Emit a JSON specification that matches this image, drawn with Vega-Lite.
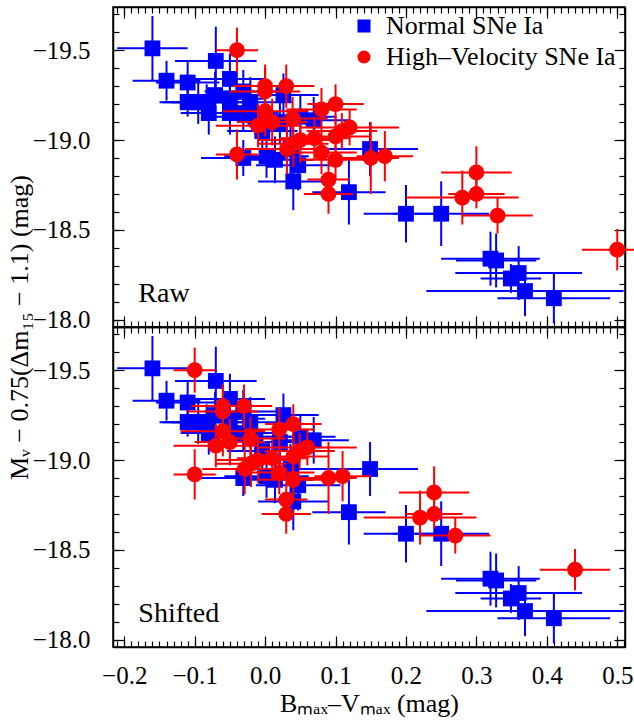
{
  "$schema": "https://vega.github.io/schema/vega-lite/v6.json",
  "padding": {"left": 5, "top": 5, "right": 8, "bottom": 5},
  "spacing": 0,
  "bounds": "flush",
  "data": {"values": [
    {"panel":"Both","type":"Normal SNe Ia","x":-0.160,"y":-19.51,"xe":0.050,"ye":0.18},
    {"panel":"Both","type":"Normal SNe Ia","x":-0.140,"y":-19.33,"xe":0.048,"ye":0.11},
    {"panel":"Both","type":"Normal SNe Ia","x":-0.110,"y":-19.32,"xe":0.045,"ye":0.12},
    {"panel":"Both","type":"Normal SNe Ia","x":-0.070,"y":-19.44,"xe":0.058,"ye":0.19},
    {"panel":"Both","type":"Normal SNe Ia","x":-0.050,"y":-19.34,"xe":0.050,"ye":0.14},
    {"panel":"Both","type":"Normal SNe Ia","x":-0.110,"y":-19.21,"xe":0.040,"ye":0.08},
    {"panel":"Both","type":"Normal SNe Ia","x":-0.095,"y":-19.21,"xe":0.050,"ye":0.12},
    {"panel":"Both","type":"Normal SNe Ia","x":-0.083,"y":-19.21,"xe":0.050,"ye":0.10},
    {"panel":"Both","type":"Normal SNe Ia","x":-0.071,"y":-19.25,"xe":0.050,"ye":0.13},
    {"panel":"Both","type":"Normal SNe Ia","x":-0.080,"y":-19.15,"xe":0.040,"ye":0.12},
    {"panel":"Both","type":"Normal SNe Ia","x":-0.050,"y":-19.23,"xe":0.050,"ye":0.10},
    {"panel":"Both","type":"Normal SNe Ia","x":-0.050,"y":-19.15,"xe":0.040,"ye":0.12},
    {"panel":"Both","type":"Normal SNe Ia","x":-0.031,"y":-19.27,"xe":0.055,"ye":0.12},
    {"panel":"Both","type":"Normal SNe Ia","x":-0.031,"y":-19.15,"xe":0.050,"ye":0.10},
    {"panel":"Both","type":"Normal SNe Ia","x":-0.021,"y":-19.21,"xe":0.060,"ye":0.14},
    {"panel":"Both","type":"Normal SNe Ia","x":-0.031,"y":-18.90,"xe":0.060,"ye":0.10},
    {"panel":"Both","type":"Normal SNe Ia","x":0.002,"y":-18.91,"xe":0.060,"ye":0.12},
    {"panel":"Both","type":"Normal SNe Ia","x":0.014,"y":-18.89,"xe":0.055,"ye":0.13},
    {"panel":"Both","type":"Normal SNe Ia","x":0.036,"y":-18.95,"xe":0.060,"ye":0.14},
    {"panel":"Both","type":"Normal SNe Ia","x":0.047,"y":-18.86,"xe":0.060,"ye":0.14},
    {"panel":"Both","type":"Normal SNe Ia","x":0.040,"y":-18.77,"xe":0.050,"ye":0.16},
    {"panel":"Both","type":"Normal SNe Ia","x":0.069,"y":-19.11,"xe":0.050,"ye":0.13},
    {"panel":"Both","type":"Normal SNe Ia","x":0.026,"y":-19.25,"xe":0.050,"ye":0.12},
    {"panel":"Both","type":"Normal SNe Ia","x":0.149,"y":-18.95,"xe":0.068,"ye":0.15},
    {"panel":"Both","type":"Normal SNe Ia","x":0.119,"y":-18.71,"xe":0.052,"ye":0.18},
    {"panel":"Both","type":"Normal SNe Ia","x":0.200,"y":-18.59,"xe":0.060,"ye":0.16},
    {"panel":"Both","type":"Normal SNe Ia","x":0.250,"y":-18.59,"xe":0.068,"ye":0.18},
    {"panel":"Both","type":"Normal SNe Ia","x":0.320,"y":-18.34,"xe":0.070,"ye":0.15},
    {"panel":"Both","type":"Normal SNe Ia","x":0.328,"y":-18.33,"xe":0.057,"ye":0.15},
    {"panel":"Both","type":"Normal SNe Ia","x":0.349,"y":-18.23,"xe":0.043,"ye":0.08},
    {"panel":"Both","type":"Normal SNe Ia","x":0.360,"y":-18.26,"xe":0.090,"ye":0.15},
    {"panel":"Both","type":"Normal SNe Ia","x":0.369,"y":-18.16,"xe":0.140,"ye":0.14},
    {"panel":"Both","type":"Normal SNe Ia","x":0.410,"y":-18.12,"xe":0.080,"ye":0.14},
    {"panel":"Both","type":"Normal SNe Ia","x":-0.014,"y":-19.13,"xe":0.060,"ye":0.10},
    {"panel":"Both","type":"Normal SNe Ia","x":-0.004,"y":-19.05,"xe":0.050,"ye":0.12},
    {"panel":"Both","type":"Normal SNe Ia","x":0.021,"y":-19.10,"xe":0.050,"ye":0.12},
    {"panel":"Both","type":"Normal SNe Ia","x":0.050,"y":-19.13,"xe":0.050,"ye":0.12},
    {"panel":"Raw","type":"High–Velocity SNe Ia","x":-0.040,"y":-19.50,"xe":0.030,"ye":0.125},
    {"panel":"Raw","type":"High–Velocity SNe Ia","x":0.000,"y":-19.30,"xe":0.045,"ye":0.12},
    {"panel":"Raw","type":"High–Velocity SNe Ia","x":0.000,"y":-19.27,"xe":0.050,"ye":0.13},
    {"panel":"Raw","type":"High–Velocity SNe Ia","x":0.030,"y":-19.30,"xe":0.040,"ye":0.12},
    {"panel":"Raw","type":"High–Velocity SNe Ia","x":0.000,"y":-19.16,"xe":0.060,"ye":0.14},
    {"panel":"Raw","type":"High–Velocity SNe Ia","x":-0.010,"y":-19.08,"xe":0.060,"ye":0.12},
    {"panel":"Raw","type":"High–Velocity SNe Ia","x":0.010,"y":-19.10,"xe":0.050,"ye":0.13},
    {"panel":"Raw","type":"High–Velocity SNe Ia","x":0.039,"y":-19.12,"xe":0.050,"ye":0.12},
    {"panel":"Raw","type":"High–Velocity SNe Ia","x":0.080,"y":-19.17,"xe":0.050,"ye":0.12},
    {"panel":"Raw","type":"High–Velocity SNe Ia","x":0.100,"y":-19.20,"xe":0.040,"ye":0.11},
    {"panel":"Raw","type":"High–Velocity SNe Ia","x":0.031,"y":-18.95,"xe":0.060,"ye":0.14},
    {"panel":"Raw","type":"High–Velocity SNe Ia","x":0.040,"y":-18.98,"xe":0.050,"ye":0.13},
    {"panel":"Raw","type":"High–Velocity SNe Ia","x":0.050,"y":-19.00,"xe":0.060,"ye":0.13},
    {"panel":"Raw","type":"High–Velocity SNe Ia","x":0.070,"y":-19.01,"xe":0.050,"ye":0.12},
    {"panel":"Raw","type":"High–Velocity SNe Ia","x":0.080,"y":-18.93,"xe":0.050,"ye":0.12},
    {"panel":"Raw","type":"High–Velocity SNe Ia","x":0.100,"y":-19.02,"xe":0.050,"ye":0.12},
    {"panel":"Raw","type":"High–Velocity SNe Ia","x":0.109,"y":-19.05,"xe":0.050,"ye":0.10},
    {"panel":"Raw","type":"High–Velocity SNe Ia","x":0.120,"y":-19.07,"xe":0.070,"ye":0.10},
    {"panel":"Raw","type":"High–Velocity SNe Ia","x":0.100,"y":-18.89,"xe":0.050,"ye":0.11},
    {"panel":"Raw","type":"High–Velocity SNe Ia","x":0.090,"y":-18.78,"xe":0.030,"ye":0.10},
    {"panel":"Raw","type":"High–Velocity SNe Ia","x":0.090,"y":-18.70,"xe":0.035,"ye":0.11},
    {"panel":"Raw","type":"High–Velocity SNe Ia","x":-0.040,"y":-18.92,"xe":0.030,"ye":0.14},
    {"panel":"Raw","type":"High–Velocity SNe Ia","x":0.150,"y":-18.90,"xe":0.040,"ye":0.20},
    {"panel":"Raw","type":"High–Velocity SNe Ia","x":0.170,"y":-18.91,"xe":0.040,"ye":0.14},
    {"panel":"Raw","type":"High–Velocity SNe Ia","x":0.300,"y":-18.82,"xe":0.050,"ye":0.145},
    {"panel":"Raw","type":"High–Velocity SNe Ia","x":0.300,"y":-18.70,"xe":0.040,"ye":0.08},
    {"panel":"Raw","type":"High–Velocity SNe Ia","x":0.280,"y":-18.68,"xe":0.080,"ye":0.15},
    {"panel":"Raw","type":"High–Velocity SNe Ia","x":0.330,"y":-18.58,"xe":0.050,"ye":0.10},
    {"panel":"Raw","type":"High–Velocity SNe Ia","x":0.500,"y":-18.39,"xe":0.050,"ye":0.115},
    {"panel":"Shifted","type":"High–Velocity SNe Ia","x":-0.100,"y":-19.50,"xe":0.030,"ye":0.125},
    {"panel":"Shifted","type":"High–Velocity SNe Ia","x":-0.060,"y":-19.30,"xe":0.045,"ye":0.12},
    {"panel":"Shifted","type":"High–Velocity SNe Ia","x":-0.060,"y":-19.27,"xe":0.050,"ye":0.13},
    {"panel":"Shifted","type":"High–Velocity SNe Ia","x":-0.030,"y":-19.30,"xe":0.040,"ye":0.12},
    {"panel":"Shifted","type":"High–Velocity SNe Ia","x":-0.060,"y":-19.16,"xe":0.060,"ye":0.14},
    {"panel":"Shifted","type":"High–Velocity SNe Ia","x":-0.070,"y":-19.08,"xe":0.060,"ye":0.12},
    {"panel":"Shifted","type":"High–Velocity SNe Ia","x":-0.050,"y":-19.10,"xe":0.050,"ye":0.13},
    {"panel":"Shifted","type":"High–Velocity SNe Ia","x":-0.021,"y":-19.12,"xe":0.050,"ye":0.12},
    {"panel":"Shifted","type":"High–Velocity SNe Ia","x":0.020,"y":-19.17,"xe":0.050,"ye":0.12},
    {"panel":"Shifted","type":"High–Velocity SNe Ia","x":0.040,"y":-19.20,"xe":0.040,"ye":0.11},
    {"panel":"Shifted","type":"High–Velocity SNe Ia","x":-0.029,"y":-18.95,"xe":0.060,"ye":0.14},
    {"panel":"Shifted","type":"High–Velocity SNe Ia","x":-0.020,"y":-18.98,"xe":0.050,"ye":0.13},
    {"panel":"Shifted","type":"High–Velocity SNe Ia","x":-0.010,"y":-19.00,"xe":0.060,"ye":0.13},
    {"panel":"Shifted","type":"High–Velocity SNe Ia","x":0.010,"y":-19.01,"xe":0.050,"ye":0.12},
    {"panel":"Shifted","type":"High–Velocity SNe Ia","x":0.020,"y":-18.93,"xe":0.050,"ye":0.12},
    {"panel":"Shifted","type":"High–Velocity SNe Ia","x":0.040,"y":-19.02,"xe":0.050,"ye":0.12},
    {"panel":"Shifted","type":"High–Velocity SNe Ia","x":0.049,"y":-19.05,"xe":0.050,"ye":0.10},
    {"panel":"Shifted","type":"High–Velocity SNe Ia","x":0.060,"y":-19.07,"xe":0.070,"ye":0.10},
    {"panel":"Shifted","type":"High–Velocity SNe Ia","x":0.040,"y":-18.89,"xe":0.050,"ye":0.11},
    {"panel":"Shifted","type":"High–Velocity SNe Ia","x":0.030,"y":-18.78,"xe":0.030,"ye":0.10},
    {"panel":"Shifted","type":"High–Velocity SNe Ia","x":0.030,"y":-18.70,"xe":0.035,"ye":0.11},
    {"panel":"Shifted","type":"High–Velocity SNe Ia","x":-0.100,"y":-18.92,"xe":0.030,"ye":0.14},
    {"panel":"Shifted","type":"High–Velocity SNe Ia","x":0.090,"y":-18.90,"xe":0.040,"ye":0.20},
    {"panel":"Shifted","type":"High–Velocity SNe Ia","x":0.110,"y":-18.91,"xe":0.040,"ye":0.14},
    {"panel":"Shifted","type":"High–Velocity SNe Ia","x":0.240,"y":-18.82,"xe":0.050,"ye":0.145},
    {"panel":"Shifted","type":"High–Velocity SNe Ia","x":0.240,"y":-18.70,"xe":0.040,"ye":0.08},
    {"panel":"Shifted","type":"High–Velocity SNe Ia","x":0.220,"y":-18.68,"xe":0.080,"ye":0.15},
    {"panel":"Shifted","type":"High–Velocity SNe Ia","x":0.270,"y":-18.58,"xe":0.050,"ye":0.10},
    {"panel":"Shifted","type":"High–Velocity SNe Ia","x":0.440,"y":-18.39,"xe":0.050,"ye":0.115}
  ]},
  "vconcat": [
    {
      "width": 512, "height": 320,
      "layer": [
        {"transform": [{"filter": "datum.type === 'Normal SNe Ia'"}],
         "mark": {"type": "errorbar", "color": "#0000ff", "thickness": 2},
         "encoding": {
           "x": {"field": "x", "type": "quantitative", "scale": {"domain": [-0.216, 0.511], "nice": false, "zero": false},
                 "axis": {"orient": "bottom", "values": [-0.21,-0.2,-0.19,-0.18,-0.17,-0.16,-0.15,-0.14,-0.13,-0.12,-0.11,-0.1,-0.09,-0.08,-0.07,-0.06,-0.05,-0.04,-0.03,-0.02,-0.01,0,0.01,0.02,0.03,0.04,0.05,0.06,0.07,0.08,0.09,0.1,0.11,0.12,0.13,0.14,0.15,0.16,0.17,0.18,0.19,0.2,0.21,0.22,0.23,0.24,0.25,0.26,0.27,0.28,0.29,0.3,0.31,0.32,0.33,0.34,0.35,0.36,0.37,0.38,0.39,0.4,0.41,0.42,0.43,0.44,0.45,0.46,0.47,0.48,0.49,0.5,0.51], "tickSize": -6, "labels": false, "domain": false, "title": null}},
           "xError": {"field": "xe"},
           "y": {"field": "y", "type": "quantitative", "scale": {"domain": [-19.74, -17.96], "reverse": true, "nice": false, "zero": false},
                 "axis": {"orient": "left", "values": [-19.7,-19.6,-19.5,-19.4,-19.3,-19.2,-19.1,-19.0,-18.9,-18.8,-18.7,-18.6,-18.5,-18.4,-18.3,-18.2,-18.1,-18.0], "tickSize": -6, "labels": false, "domain": false, "title": null}}}},
        {"transform": [{"filter": "datum.type === 'Normal SNe Ia'"}],
         "mark": {"type": "errorbar", "color": "#0000ff", "thickness": 2},
         "encoding": {
           "y": {"field": "y", "type": "quantitative", "scale": {"domain": [-19.74, -17.96], "reverse": true, "nice": false, "zero": false},
                 "axis": {"orient": "right", "values": [-19.7,-19.6,-19.5,-19.4,-19.3,-19.2,-19.1,-19.0,-18.9,-18.8,-18.7,-18.6,-18.5,-18.4,-18.3,-18.2,-18.1,-18.0], "tickSize": -6, "labels": false, "domain": false, "title": null}},
           "yError": {"field": "ye"},
           "x": {"field": "x", "type": "quantitative", "scale": {"domain": [-0.216, 0.511], "nice": false, "zero": false},
                 "axis": {"orient": "top", "values": [-0.21,-0.2,-0.19,-0.18,-0.17,-0.16,-0.15,-0.14,-0.13,-0.12,-0.11,-0.1,-0.09,-0.08,-0.07,-0.06,-0.05,-0.04,-0.03,-0.02,-0.01,0,0.01,0.02,0.03,0.04,0.05,0.06,0.07,0.08,0.09,0.1,0.11,0.12,0.13,0.14,0.15,0.16,0.17,0.18,0.19,0.2,0.21,0.22,0.23,0.24,0.25,0.26,0.27,0.28,0.29,0.3,0.31,0.32,0.33,0.34,0.35,0.36,0.37,0.38,0.39,0.4,0.41,0.42,0.43,0.44,0.45,0.46,0.47,0.48,0.49,0.5,0.51], "tickSize": -6, "labels": false, "domain": false, "title": null}}}},
        {"transform": [{"filter": "datum.type === 'Normal SNe Ia'"}],
         "mark": {"type": "point", "filled": true, "size": 250, "opacity": 1, "strokeWidth": 0},
         "encoding": {
           "x": {"field": "x", "type": "quantitative", "scale": {"domain": [-0.216, 0.511], "nice": false, "zero": false},
                 "axis": {"orient": "bottom", "values": [-0.2,-0.1,0,0.1,0.2,0.3,0.4,0.5], "tickSize": -11, "labels": false, "title": null}},
           "y": {"field": "y", "type": "quantitative", "scale": {"domain": [-19.74, -17.96], "reverse": true, "nice": false, "zero": false},
                 "axis": {"orient": "left", "values": [-19.5,-19.0,-18.5,-18.0], "tickSize": -11, "format": ".1f", "labelPadding": 34,
                          "title": "Mᵥ − 0.75(Δm₁₅ − 1.1) (mag)", "titleY": 320, "titlePadding": 0}},
           "color": {"field": "type", "type": "nominal", "scale": {"domain": ["Normal SNe Ia", "High–Velocity SNe Ia"], "range": ["#0000ff", "#ff0000"]},
                     "legend": {"title": null, "orient": "none", "legendX": 238, "legendY": 6, "padding": 0, "labelFontSize": 26, "labelFont": "Liberation Serif", "labelColor": "black", "labelLimit": 400, "symbolSize": 170, "rowPadding": 5, "labelOffset": 9, "symbolStrokeWidth": 0}},
           "shape": {"field": "type", "type": "nominal", "scale": {"domain": ["Normal SNe Ia", "High–Velocity SNe Ia"], "range": ["square", "circle"]},
                     "legend": {"title": null, "orient": "none", "legendX": 238, "legendY": 6, "padding": 0, "labelFontSize": 26, "labelFont": "Liberation Serif", "labelColor": "black", "labelLimit": 400, "symbolSize": 170, "rowPadding": 5, "labelOffset": 9, "symbolStrokeWidth": 0}}}},
        {"transform": [{"filter": "datum.panel === 'Raw'"}],
         "mark": {"type": "errorbar", "color": "#ff0000", "thickness": 2},
         "encoding": {
           "x": {"field": "x", "type": "quantitative", "scale": {"domain": [-0.216, 0.511], "nice": false, "zero": false}, "axis": null},
           "xError": {"field": "xe"},
           "y": {"field": "y", "type": "quantitative", "scale": {"domain": [-19.74, -17.96], "reverse": true, "nice": false, "zero": false}, "axis": null}}},
        {"transform": [{"filter": "datum.panel === 'Raw'"}],
         "mark": {"type": "errorbar", "color": "#ff0000", "thickness": 2},
         "encoding": {
           "y": {"field": "y", "type": "quantitative", "scale": {"domain": [-19.74, -17.96], "reverse": true, "nice": false, "zero": false}, "axis": null},
           "yError": {"field": "ye"},
           "x": {"field": "x", "type": "quantitative", "scale": {"domain": [-0.216, 0.511], "nice": false, "zero": false}, "axis": null}}},
        {"transform": [{"filter": "datum.panel === 'Raw'"}],
         "mark": {"type": "point", "filled": true, "size": 250, "opacity": 1, "strokeWidth": 0},
         "encoding": {
           "x": {"field": "x", "type": "quantitative", "scale": {"domain": [-0.216, 0.511], "nice": false, "zero": false},
                 "axis": {"orient": "top", "values": [-0.2,-0.1,0,0.1,0.2,0.3,0.4,0.5], "tickSize": -11, "labels": false, "title": null}},
           "y": {"field": "y", "type": "quantitative", "scale": {"domain": [-19.74, -17.96], "reverse": true, "nice": false, "zero": false},
                 "axis": {"orient": "right", "values": [-19.5,-19.0,-18.5,-18.0], "tickSize": -11, "labels": false, "title": null}},
           "color": {"field": "type", "type": "nominal", "scale": {"domain": ["Normal SNe Ia", "High–Velocity SNe Ia"], "range": ["#0000ff", "#ff0000"]},
                     "legend": {"title": null, "orient": "none", "legendX": 238, "legendY": 6, "padding": 0, "labelFontSize": 26, "labelFont": "Liberation Serif", "labelColor": "black", "labelLimit": 400, "symbolSize": 170, "rowPadding": 5, "labelOffset": 9, "symbolStrokeWidth": 0}},
           "shape": {"field": "type", "type": "nominal", "scale": {"domain": ["Normal SNe Ia", "High–Velocity SNe Ia"], "range": ["square", "circle"]},
                     "legend": {"title": null, "orient": "none", "legendX": 238, "legendY": 6, "padding": 0, "labelFontSize": 26, "labelFont": "Liberation Serif", "labelColor": "black", "labelLimit": 400, "symbolSize": 170, "rowPadding": 5, "labelOffset": 9, "symbolStrokeWidth": 0}}}},
        {"data": {"values": [{}]},
         "mark": {"type": "text", "text": "Raw", "align": "left", "baseline": "alphabetic", "fontSize": 28, "font": "Liberation Serif", "color": "black"},
         "encoding": {
           "x": {"datum": -0.18, "type": "quantitative", "scale": {"domain": [-0.216, 0.511], "nice": false, "zero": false}, "axis": null},
           "y": {"datum": -18.1, "type": "quantitative", "scale": {"domain": [-19.74, -17.96], "reverse": true, "nice": false, "zero": false}, "axis": null}}}
      ],
      "resolve": {"axis": {"x": "independent", "y": "independent"}}
    },
    {
      "width": 512, "height": 320,
      "layer": [
        {"transform": [{"filter": "datum.type === 'Normal SNe Ia'"}],
         "mark": {"type": "errorbar", "color": "#0000ff", "thickness": 2},
         "encoding": {
           "x": {"field": "x", "type": "quantitative", "scale": {"domain": [-0.216, 0.511], "nice": false, "zero": false},
                 "axis": {"orient": "bottom", "values": [-0.21,-0.2,-0.19,-0.18,-0.17,-0.16,-0.15,-0.14,-0.13,-0.12,-0.11,-0.1,-0.09,-0.08,-0.07,-0.06,-0.05,-0.04,-0.03,-0.02,-0.01,0,0.01,0.02,0.03,0.04,0.05,0.06,0.07,0.08,0.09,0.1,0.11,0.12,0.13,0.14,0.15,0.16,0.17,0.18,0.19,0.2,0.21,0.22,0.23,0.24,0.25,0.26,0.27,0.28,0.29,0.3,0.31,0.32,0.33,0.34,0.35,0.36,0.37,0.38,0.39,0.4,0.41,0.42,0.43,0.44,0.45,0.46,0.47,0.48,0.49,0.5,0.51], "tickSize": -6, "labels": false, "domain": false, "title": null}},
           "xError": {"field": "xe"},
           "y": {"field": "y", "type": "quantitative", "scale": {"domain": [-19.74, -17.96], "reverse": true, "nice": false, "zero": false},
                 "axis": {"orient": "left", "values": [-19.7,-19.6,-19.5,-19.4,-19.3,-19.2,-19.1,-19.0,-18.9,-18.8,-18.7,-18.6,-18.5,-18.4,-18.3,-18.2,-18.1,-18.0], "tickSize": -6, "labels": false, "domain": false, "title": null}}}},
        {"transform": [{"filter": "datum.type === 'Normal SNe Ia'"}],
         "mark": {"type": "errorbar", "color": "#0000ff", "thickness": 2},
         "encoding": {
           "y": {"field": "y", "type": "quantitative", "scale": {"domain": [-19.74, -17.96], "reverse": true, "nice": false, "zero": false},
                 "axis": {"orient": "right", "values": [-19.7,-19.6,-19.5,-19.4,-19.3,-19.2,-19.1,-19.0,-18.9,-18.8,-18.7,-18.6,-18.5,-18.4,-18.3,-18.2,-18.1,-18.0], "tickSize": -6, "labels": false, "domain": false, "title": null}},
           "yError": {"field": "ye"},
           "x": {"field": "x", "type": "quantitative", "scale": {"domain": [-0.216, 0.511], "nice": false, "zero": false},
                 "axis": {"orient": "top", "values": [-0.21,-0.2,-0.19,-0.18,-0.17,-0.16,-0.15,-0.14,-0.13,-0.12,-0.11,-0.1,-0.09,-0.08,-0.07,-0.06,-0.05,-0.04,-0.03,-0.02,-0.01,0,0.01,0.02,0.03,0.04,0.05,0.06,0.07,0.08,0.09,0.1,0.11,0.12,0.13,0.14,0.15,0.16,0.17,0.18,0.19,0.2,0.21,0.22,0.23,0.24,0.25,0.26,0.27,0.28,0.29,0.3,0.31,0.32,0.33,0.34,0.35,0.36,0.37,0.38,0.39,0.4,0.41,0.42,0.43,0.44,0.45,0.46,0.47,0.48,0.49,0.5,0.51], "tickSize": -6, "labels": false, "domain": false, "title": null}}}},
        {"transform": [{"filter": "datum.type === 'Normal SNe Ia'"}],
         "mark": {"type": "point", "filled": true, "size": 250, "opacity": 1, "strokeWidth": 0},
         "encoding": {
           "x": {"field": "x", "type": "quantitative", "scale": {"domain": [-0.216, 0.511], "nice": false, "zero": false},
                 "axis": {"orient": "bottom", "values": [-0.2,-0.1,0,0.1,0.2,0.3,0.4,0.5], "tickSize": -11, "format": ".1f", "labelPadding": 27,
                          "title": "Bₘₐₓ–Vₘₐₓ (mag)", "titlePadding": 2}},
           "y": {"field": "y", "type": "quantitative", "scale": {"domain": [-19.74, -17.96], "reverse": true, "nice": false, "zero": false},
                 "axis": {"orient": "left", "values": [-19.5,-19.0,-18.5,-18.0], "tickSize": -11, "format": ".1f", "labelPadding": 34, "title": null}},
           "color": {"field": "type", "type": "nominal", "scale": {"domain": ["Normal SNe Ia", "High–Velocity SNe Ia"], "range": ["#0000ff", "#ff0000"]}, "legend": null},
           "shape": {"field": "type", "type": "nominal", "scale": {"domain": ["Normal SNe Ia", "High–Velocity SNe Ia"], "range": ["square", "circle"]}, "legend": null}}},
        {"transform": [{"filter": "datum.panel === 'Shifted'"}],
         "mark": {"type": "errorbar", "color": "#ff0000", "thickness": 2},
         "encoding": {
           "x": {"field": "x", "type": "quantitative", "scale": {"domain": [-0.216, 0.511], "nice": false, "zero": false}, "axis": null},
           "xError": {"field": "xe"},
           "y": {"field": "y", "type": "quantitative", "scale": {"domain": [-19.74, -17.96], "reverse": true, "nice": false, "zero": false}, "axis": null}}},
        {"transform": [{"filter": "datum.panel === 'Shifted'"}],
         "mark": {"type": "errorbar", "color": "#ff0000", "thickness": 2},
         "encoding": {
           "y": {"field": "y", "type": "quantitative", "scale": {"domain": [-19.74, -17.96], "reverse": true, "nice": false, "zero": false}, "axis": null},
           "yError": {"field": "ye"},
           "x": {"field": "x", "type": "quantitative", "scale": {"domain": [-0.216, 0.511], "nice": false, "zero": false}, "axis": null}}},
        {"transform": [{"filter": "datum.panel === 'Shifted'"}],
         "mark": {"type": "point", "filled": true, "size": 250, "opacity": 1, "strokeWidth": 0},
         "encoding": {
           "x": {"field": "x", "type": "quantitative", "scale": {"domain": [-0.216, 0.511], "nice": false, "zero": false},
                 "axis": {"orient": "top", "values": [-0.2,-0.1,0,0.1,0.2,0.3,0.4,0.5], "tickSize": -11, "labels": false, "title": null}},
           "y": {"field": "y", "type": "quantitative", "scale": {"domain": [-19.74, -17.96], "reverse": true, "nice": false, "zero": false},
                 "axis": {"orient": "right", "values": [-19.5,-19.0,-18.5,-18.0], "tickSize": -11, "labels": false, "title": null}},
           "color": {"field": "type", "type": "nominal", "scale": {"domain": ["Normal SNe Ia", "High–Velocity SNe Ia"], "range": ["#0000ff", "#ff0000"]}, "legend": null},
           "shape": {"field": "type", "type": "nominal", "scale": {"domain": ["Normal SNe Ia", "High–Velocity SNe Ia"], "range": ["square", "circle"]}, "legend": null}}},
        {"data": {"values": [{}]},
         "mark": {"type": "text", "text": "Shifted", "align": "left", "baseline": "alphabetic", "fontSize": 28, "font": "Liberation Serif", "color": "black"},
         "encoding": {
           "x": {"datum": -0.18, "type": "quantitative", "scale": {"domain": [-0.216, 0.511], "nice": false, "zero": false}, "axis": null},
           "y": {"datum": -18.1, "type": "quantitative", "scale": {"domain": [-19.74, -17.96], "reverse": true, "nice": false, "zero": false}, "axis": null}}}
      ],
      "resolve": {"axis": {"x": "independent", "y": "independent"}}
    }
  ],
  "resolve": {"legend": {"color": "independent", "shape": "independent"}},
  "config": {
    "font": "Liberation Serif",
    "background": "white",
    "view": {"stroke": "black", "strokeWidth": 1.5},
    "axis": {"grid": false, "domainColor": "black", "domainWidth": 1.5, "tickColor": "black", "tickWidth": 1.2,
             "labelFont": "Liberation Serif", "labelFontSize": 25, "labelColor": "black",
             "titleFont": "Liberation Serif", "titleFontSize": 26, "titleFontWeight": "normal", "titleColor": "black",
             "labelOverlap": false, "labelFlush": false, "labelBound": false}
  }
}
